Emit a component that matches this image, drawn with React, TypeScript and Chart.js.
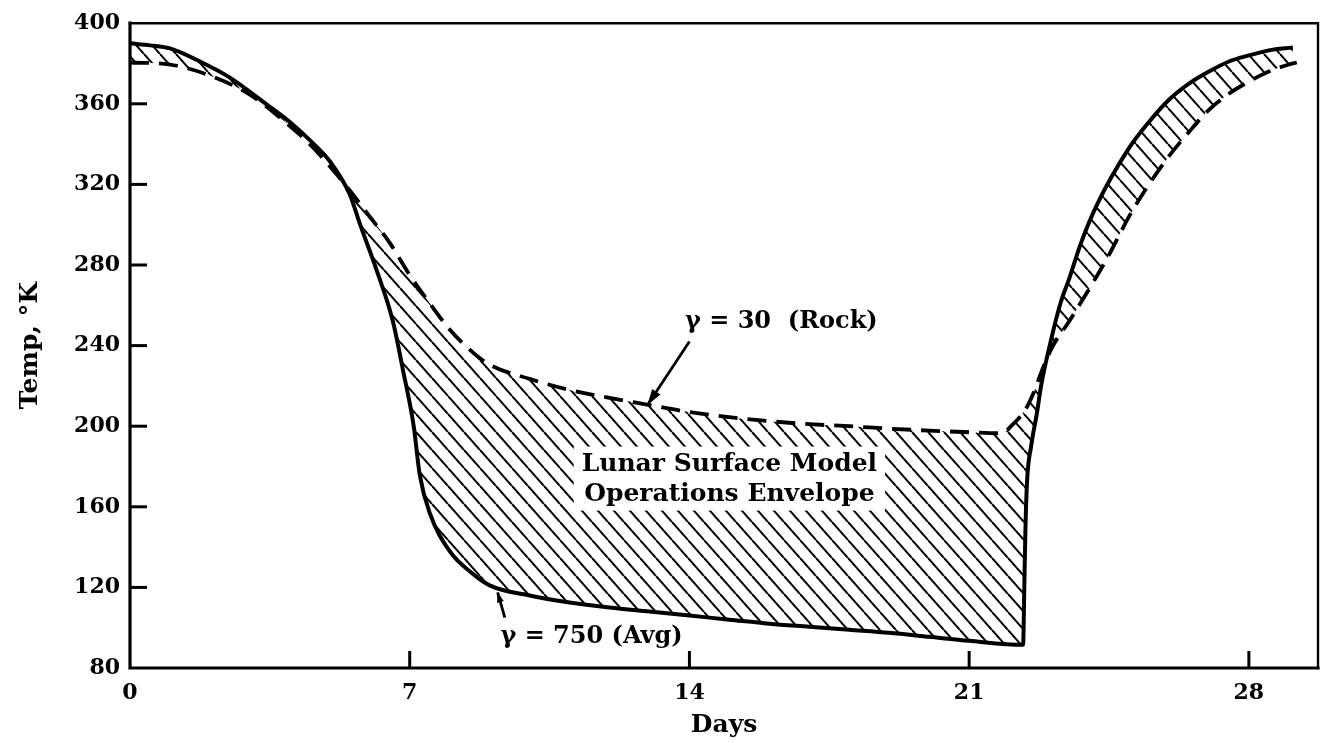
import React, { useEffect, useRef } from "react";
import { Chart, registerables } from "chart.js";

Chart.register(...registerables);

// γ = 30 (Rock) — dashed curve
const rockDays = [0, 1, 2, 3, 4, 4.5, 5, 5.5, 6, 6.5, 7, 7.5, 8, 8.5, 9, 10, 11, 12, 13, 14, 15, 16, 17, 18, 19, 20, 21, 21.8, 22.1, 22.4, 22.6, 22.85, 23.1, 23.5, 24, 24.5, 25, 25.5, 26, 26.5, 27, 27.5, 28, 28.5, 29, 29.2];
const rockTemp = [380.5, 379.5, 374, 364.5, 349, 340, 329, 317, 304, 291, 275, 261, 248, 238, 230.5, 223.5, 218, 214, 210.5, 207, 204.5, 202.5, 201, 200, 198.8, 197.8, 197, 196.5, 201, 208, 216, 229, 240, 252, 268, 285, 304, 320, 334, 346, 357, 365, 371, 376, 379.5, 380.5];

// γ = 750 (Avg) — solid curve
const avgDays = [0, 0.5, 1, 1.75, 2.5, 3.4, 4, 4.5, 5, 5.5, 5.76, 6.18, 6.58, 6.83, 7.1, 7.25, 7.5, 8, 8.5, 9, 10, 11, 12, 13, 14, 15, 16, 17, 18, 19, 20, 21, 22.35, 22.38, 22.41, 22.45, 22.55, 22.7, 22.8, 23.1, 23.3, 23.5, 23.8, 24.2, 25, 25.5, 26, 26.5, 27, 27.5, 28, 28.5, 29.1];
const avgTemp = [390, 389, 387.5, 381, 373, 360, 351, 342, 331.5, 315, 300, 277, 252, 228, 200, 176, 157, 138, 128, 121, 116, 112.5, 110, 108, 106, 104, 102, 100.5, 99, 97.5, 95.5, 93.5, 91.5, 120, 150, 173, 190, 207, 220, 247, 262, 273, 291, 310, 338, 351, 362, 370, 376, 381, 384, 386.5, 388];

const xTicks = [0, 7, 14, 21, 28];
const yTicks = [80, 120, 160, 200, 240, 280, 320, 360, 400];

const rockLabel = "γ = 30  (Rock)";
const avgLabel = "γ = 750 (Avg)";
const envelopeLines = ["Lunar Surface Model", "Operations Envelope"];

// annotation anchors in data units [day, temp]
const rockLabelAt = [16.3, 252];
const rockArrow = [[14.0, 242], [12.95, 210.5]];
const avgLabelAt = [11.55, 95.7];
const avgArrow = [[9.38, 105], [9.2, 117.5]];
const envelopeAt = [15.0, 174];

const FONT = "'DejaVu Serif', 'Liberation Serif', serif";

function makeHatch(ctx: CanvasRenderingContext2D) {
  const w = 16, h = 18;
  const c = document.createElement("canvas");
  c.width = w; c.height = h;
  const g = c.getContext("2d")!;
  g.strokeStyle = "#000";
  g.lineWidth = 2;
  for (const k of [-1, 0, 1]) {
    g.beginPath();
    g.moveTo(k * w, 0);
    g.lineTo(k * w + w, h);
    g.stroke();
  }
  return ctx.createPattern(c, "repeat");
}

function arrowHead(ctx: CanvasRenderingContext2D, x0: number, y0: number, x1: number, y1: number, len: number, half: number) {
  const a = Math.atan2(y1 - y0, x1 - x0);
  ctx.beginPath();
  ctx.moveTo(x1, y1);
  ctx.lineTo(x1 - len * Math.cos(a) + half * Math.sin(a), y1 - len * Math.sin(a) - half * Math.cos(a));
  ctx.lineTo(x1 - len * Math.cos(a) - half * Math.sin(a), y1 - len * Math.sin(a) + half * Math.cos(a));
  ctx.closePath();
  ctx.fill();
}

const overlay = {
  id: "overlay",
  afterDatasetsDraw(chart: any) {
    const { ctx, chartArea: a, scales } = chart;
    const x = scales.x, y = scales.y;
    ctx.save();
    ctx.fillStyle = "#000";
    ctx.strokeStyle = "#000";

    // envelope label with white box
    ctx.font = `bold 25px ${FONT}`;
    const cx = x.getPixelForValue(envelopeAt[0]);
    const cy = y.getPixelForValue(envelopeAt[1]);
    const tw = Math.max(...envelopeLines.map((t) => ctx.measureText(t).width));
    ctx.fillStyle = "#fff";
    ctx.fillRect(cx - tw / 2 - 8, cy - 32, tw + 16, 64);
    ctx.fillStyle = "#000";
    ctx.textAlign = "center";
    ctx.textBaseline = "middle";
    ctx.fillText(envelopeLines[0], cx, cy - 14);
    ctx.fillText(envelopeLines[1], cx, cy + 16);

    // rock label + arrow
    ctx.font = `bold 24px ${FONT}`;
    ctx.fillText(rockLabel, x.getPixelForValue(rockLabelAt[0]), y.getPixelForValue(rockLabelAt[1]));
    let p0 = [x.getPixelForValue(rockArrow[0][0]), y.getPixelForValue(rockArrow[0][1])];
    let p1 = [x.getPixelForValue(rockArrow[1][0]), y.getPixelForValue(rockArrow[1][1])];
    ctx.lineWidth = 2.8;
    ctx.beginPath();
    ctx.moveTo(p0[0], p0[1]);
    ctx.lineTo(p1[0], p1[1]);
    ctx.stroke();
    arrowHead(ctx, p0[0], p0[1], p1[0], p1[1], 16, 5);

    // avg label + arrow
    ctx.fillText(avgLabel, x.getPixelForValue(avgLabelAt[0]), y.getPixelForValue(avgLabelAt[1]));
    p0 = [x.getPixelForValue(avgArrow[0][0]), y.getPixelForValue(avgArrow[0][1])];
    p1 = [x.getPixelForValue(avgArrow[1][0]), y.getPixelForValue(avgArrow[1][1])];
    ctx.beginPath();
    ctx.moveTo(p0[0], p0[1]);
    ctx.lineTo(p1[0], p1[1]);
    ctx.stroke();
    arrowHead(ctx, p0[0], p0[1], p1[0], p1[1], 10, 3.5);

    // frame
    ctx.lineCap = "square";
    ctx.lineWidth = 2.4;
    ctx.beginPath();
    ctx.moveTo(a.left, a.top);
    ctx.lineTo(a.right, a.top);
    ctx.lineTo(a.right, a.bottom);
    ctx.stroke();
    ctx.lineWidth = 3.2;
    ctx.beginPath();
    ctx.moveTo(a.left, a.top);
    ctx.lineTo(a.left, a.bottom);
    ctx.lineTo(a.right, a.bottom);
    ctx.stroke();

    // inward ticks
    ctx.lineWidth = 3;
    ctx.lineCap = "butt";
    for (const v of yTicks) {
      if (v === 80 || v === 400) continue;
      const py = y.getPixelForValue(v);
      ctx.beginPath();
      ctx.moveTo(a.left, py);
      ctx.lineTo(a.left + 17, py);
      ctx.stroke();
    }
    for (const v of xTicks) {
      if (v === 0) continue;
      const px = x.getPixelForValue(v);
      ctx.beginPath();
      ctx.moveTo(px, a.bottom);
      ctx.lineTo(px, a.bottom - 17);
      ctx.stroke();
    }
    ctx.restore();
  },
};

export default function App() {
  const ref = useRef<HTMLCanvasElement>(null);
  useEffect(() => {
    const canvas = ref.current!;
    const ctx = canvas.getContext("2d")!;
    const hatch = makeHatch(ctx);
    const chart = new Chart(ctx, {
      type: "line",
      data: {
        datasets: [
          {
            label: rockLabel,
            data: rockDays.map((d, i) => ({ x: d, y: rockTemp[i] })),
            borderColor: "#000",
            borderWidth: 3.8,
            borderDash: [19, 10],
            pointRadius: 0,
            cubicInterpolationMode: "monotone",
            fill: false,
          },
          {
            label: avgLabel,
            data: avgDays.map((d, i) => ({ x: d, y: avgTemp[i] })),
            borderColor: "#000",
            borderWidth: 4,
            pointRadius: 0,
            cubicInterpolationMode: "monotone",
            backgroundColor: hatch as any,
            fill: { target: 0 },
          },
        ],
      },
      options: {
        animation: false,
        responsive: true,
        maintainAspectRatio: false,
        layout: { padding: { top: 15, right: 16, left: 0, bottom: 0 } },
        plugins: { legend: { display: false }, tooltip: { enabled: false } },
        scales: {
          x: {
            type: "linear",
            min: 0,
            max: 29.73,
            grid: { display: false, drawTicks: false },
            border: { display: false },
            afterBuildTicks: (s: any) => { s.ticks = xTicks.map((v) => ({ value: v })); },
            afterFit: (s: any) => { s.height = 75; },
            ticks: { color: "#000", padding: 12, font: { family: FONT, size: 22, weight: "bold" }, maxRotation: 0, autoSkip: false },
            title: { display: true, text: "Days", color: "#000", padding: { top: 0, bottom: 3 }, font: { family: FONT, size: 25, weight: "bold" } },
          },
          y: {
            type: "linear",
            min: 80,
            max: 400,
            grid: { display: false, drawTicks: false },
            border: { display: false },
            afterBuildTicks: (s: any) => { s.ticks = yTicks.map((v) => ({ value: v })); },
            afterFit: (s: any) => { s.width = 130; },
            ticks: { color: "#000", padding: 10, font: { family: FONT, size: 22, weight: "bold" } },
            title: { display: true, text: "Temp, °K", color: "#000", padding: { top: 15, bottom: 0 }, font: { family: FONT, size: 25, weight: "bold" } },
          },
        },
      },
      plugins: [overlay],
    } as any);
    return () => chart.destroy();
  }, []);
  return (
    <div style={{ position: "fixed", left: 0, top: 0, width: 1334, height: 743, background: "#fff" }}>
      <canvas ref={ref} />
    </div>
  );
}
